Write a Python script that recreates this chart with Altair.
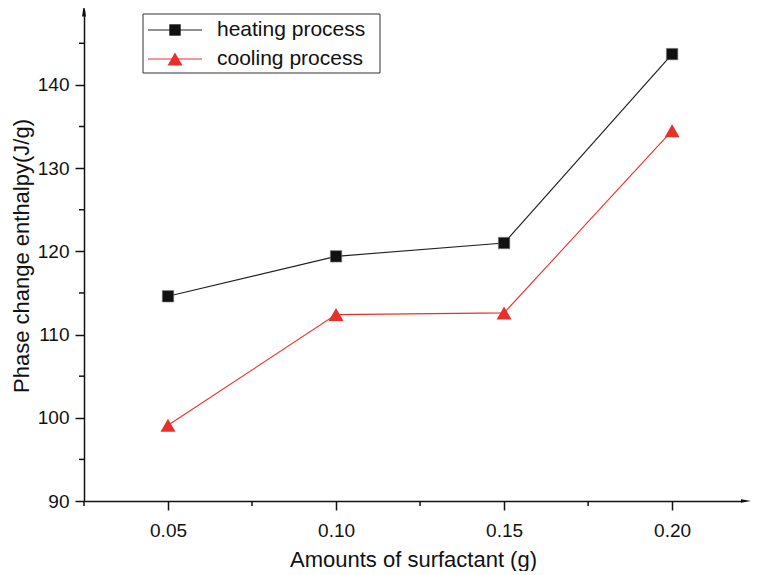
import altair as alt
import pandas as pd

# ---- data ----
amounts = [0.05, 0.10, 0.15, 0.20]
heating = [114.6, 119.4, 121.0, 143.7]
cooling = [99.1, 112.4, 112.6, 134.5]
series_names = ["heating process", "cooling process"]
x_ticks = [0.05, 0.10, 0.15, 0.20]
x_minor = [0.025, 0.075, 0.125, 0.175]
y_ticks = [90, 100, 110, 120, 130, 140]
y_minor = [95, 105, 115, 125, 135, 145]

W, H = 658, 491
FONT = "Liberation Sans"
INK = "#111111"
RED = "#e8302a"

df = pd.DataFrame({
    "amount": amounts * 2,
    "value": heating + cooling,
    "series": [series_names[0]] * len(amounts) + [series_names[1]] * len(amounts),
})

xscale = alt.Scale(domain=[0.025, 0.2208], nice=False, zero=False)
yscale = alt.Scale(domain=[90, 149], nice=False, zero=False)

x_axis = alt.Axis(values=x_ticks, format=".2f", title="Amounts of surfactant (g)",
                  tickSize=9, tickWidth=1.5, tickColor=INK, domainColor=INK, domainWidth=1.5,
                  labelFontSize=19, labelPadding=11, labelFont=FONT, labelColor=INK, labelFlush=False,
                  titleFont=FONT, titleFontSize=22, titleFontWeight="normal", titleColor=INK,
                  titlePadding=9, grid=False)
y_axis = alt.Axis(values=y_ticks, format="d", title="Phase change enthalpy(J/g)",
                  tickSize=9, tickWidth=1.5, tickColor=INK, domainColor=INK, domainWidth=1.5,
                  labelFontSize=19, labelPadding=6, labelFont=FONT, labelColor=INK, labelFlush=False,
                  titleFont=FONT, titleFontSize=22, titleFontWeight="normal", titleColor=INK,
                  titlePadding=4, grid=False)

X = alt.X("amount:Q", scale=xscale, axis=x_axis)
Y = alt.Y("value:Q", scale=yscale, axis=y_axis)

heat = alt.Chart(df).transform_filter(alt.datum.series == series_names[0])
cool = alt.Chart(df).transform_filter(alt.datum.series == series_names[1])

heat_line = heat.mark_line(color="#222222", strokeWidth=1.2).encode(x=X, y=Y)
cool_line = cool.mark_line(color=RED, strokeWidth=1.1).encode(x=X, y=Y)
heat_pts = heat.mark_point(shape="square", filled=True, fill=INK, stroke="#777777",
                           strokeWidth=0.6, size=130, opacity=1).encode(x=X, y=Y)
cool_pts = cool.mark_point(shape="triangle-up", filled=True, fill=RED, size=225,
                           opacity=1).encode(x=X, y=Y)

# minor ticks
xm = pd.DataFrame({"amount": x_minor})
ym = pd.DataFrame({"value": y_minor})
x_minor_ticks = alt.Chart(xm).mark_rule(color=INK, strokeWidth=1.5).encode(
    x=X, y=alt.value(H), y2=alt.value(H + 5))
y_minor_ticks = alt.Chart(ym).mark_rule(color=INK, strokeWidth=1.5).encode(
    y=Y, x=alt.value(-5), x2=alt.value(0))

one = alt.Data(values=[{"k": 1}])
# axis arrows
up_arrow = alt.Chart(one).mark_point(shape="M0,-1L0.3,1L-0.3,1Z", filled=True, fill=INK,
                                     size=169, opacity=1).encode(x=alt.value(0), y=alt.value(0))
right_arrow = alt.Chart(one).mark_point(shape="M1,0L-1,-0.35L-1,0.35Z", filled=True, fill=INK,
                                        size=100, opacity=1).encode(x=alt.value(W + 4), y=alt.value(H))

# legend
legend_box = alt.Chart(one).mark_rect(fill="white", stroke="#333333", strokeWidth=1).encode(
    x=alt.value(59), x2=alt.value(296), y=alt.value(4), y2=alt.value(63))
legend_layers = [legend_box]
leg_y = [20, 49]
leg_colors = ["#222222", RED]
leg_shapes = ["square", "triangle-up"]
leg_sizes = [130, 225]
for i, name in enumerate(series_names):
    legend_layers.append(alt.Chart(one).mark_rule(color=leg_colors[i], strokeWidth=1.2).encode(
        x=alt.value(64), x2=alt.value(118), y=alt.value(leg_y[i])))
    legend_layers.append(alt.Chart(one).mark_point(
        shape=leg_shapes[i], filled=True, fill=(INK if i == 0 else RED), size=leg_sizes[i],
        opacity=1).encode(x=alt.value(91), y=alt.value(leg_y[i])))
    legend_layers.append(alt.Chart(one).mark_text(
        text=name, align="left", baseline="middle", font=FONT, fontSize=21, color=INK).encode(
        x=alt.value(133), y=alt.value(leg_y[i])))

chart = alt.layer(
    heat_line, cool_line, x_minor_ticks, y_minor_ticks, heat_pts, cool_pts,
    up_arrow, right_arrow, *legend_layers
).properties(
    width=W, height=H,
    autosize=alt.AutoSizeParams(type="none"),
    padding={"left": 76, "top": 2, "right": 9, "bottom": 70},
    background="white",
).configure_view(stroke=None)

chart.save("out.html", embed_options={"renderer": "svg", "actions": False})
